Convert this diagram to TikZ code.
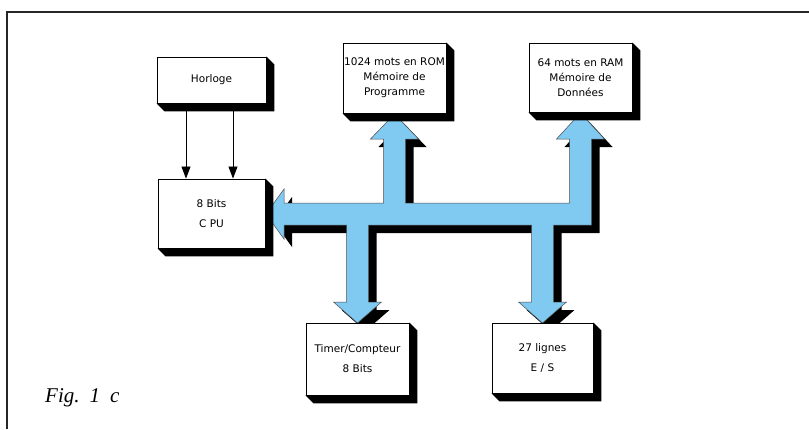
\documentclass[tikz,border=0pt]{standalone}
\usepackage{fontspec}
\setmainfont{Liberation Serif}
\newfontfamily\lab{DejaVu Sans}
\usetikzlibrary{arrows.meta,calc}
\definecolor{busblue}{RGB}{128,202,242}
\tikzset{
  blockbox/.style={draw=black, line width=0.9pt, fill=white, inner sep=0pt,
    align=center, font=\lab\fontsize{10.5}{15}\selectfont},
  boxshadow/.style={fill=black},
  busfill/.style={fill=busblue, draw=black!70, line width=0.5pt, line join=miter},
  busshadow/.style={fill=black},
  clockarrow/.style={line width=0.8pt, -{Triangle[length=12pt,width=9pt]}},
  framestyle/.style={line width=2pt, draw=black!85},
  figlabel/.style={anchor=base west, inner sep=0pt, font=\fontsize{21}{21}\selectfont\itshape}
}
\def\buspath{(266,214) -- (284,189) -- (284,203) -- (383.5,203) -- (383.5,139) -- (370.5,139) -- (394.5,114) -- (418.5,139) -- (405.5,139) -- (405.5,203) -- (569.5,203) -- (569.5,139) -- (556.5,139) -- (580.5,113) -- (604.5,139) -- (591.5,139) -- (591.5,225) -- (553.5,225) -- (553.5,302) -- (566.5,302) -- (542.5,323) -- (518.5,302) -- (531.5,302) -- (531.5,225) -- (368.5,225) -- (368.5,302) -- (381.5,302) -- (357.5,323) -- (333.5,302) -- (346.5,302) -- (346.5,225) -- (284,225) -- (284,239) -- cycle}
\begin{document}
\begin{tikzpicture}[x=1pt,y=-1pt]
\useasboundingbox (0,0) rectangle (809,429);
\fill[white] (0,0) rectangle (809,429);
% frame
\draw[framestyle] (7,429) -- (7,12) -- (809,12);
% bus
\fill[busshadow, shift={(8,8)}] \buspath;
\path[busfill] \buspath;
% boxes
\node[blockbox, minimum width=109pt, minimum height=46pt] (hor) at (211.5,80) {Horloge};
\node[blockbox, minimum width=107pt, minimum height=69pt] (cpu) at (211.5,213.5) {8 Bits\\[5pt]C PU};
\node[blockbox, minimum width=103pt, minimum height=70pt] (rom) at (394.5,78) {1024 mots en ROM\\Mémoire de\\Programme};
\node[blockbox, minimum width=103pt, minimum height=69pt] (ram) at (580.5,77.5) {64 mots en RAM\\Mémoire de\\Données};
\node[blockbox, minimum width=103pt, minimum height=72pt] (tim) at (357.5,359) {Timer/Compteur\\[5pt]8 Bits};
\node[blockbox, minimum width=101pt, minimum height=70pt] (es) at (542.5,358) {27 lignes\\[5pt]E / S};
\foreach \n in {hor,cpu,rom,ram,tim,es}{
  \fill[boxshadow] (\n.north east) -- ++(8,8) -- ($(\n.south east)+(8,8)$) -- ($(\n.south west)+(8,8)$) -- (\n.south west) -- (\n.south east) -- cycle;
}
% clock lines
\draw[clockarrow] ([xshift=-25.5pt,yshift=-8pt]hor.south) -- ([xshift=-25.5pt]cpu.north);
\draw[clockarrow] ([xshift=21.5pt,yshift=-8pt]hor.south) -- ([xshift=21.5pt]cpu.north);
% caption
\node[figlabel] (fig) at (45,402) {Fig.\hspace{10pt}1\hspace{10pt}c};
\end{tikzpicture}
\end{document}
